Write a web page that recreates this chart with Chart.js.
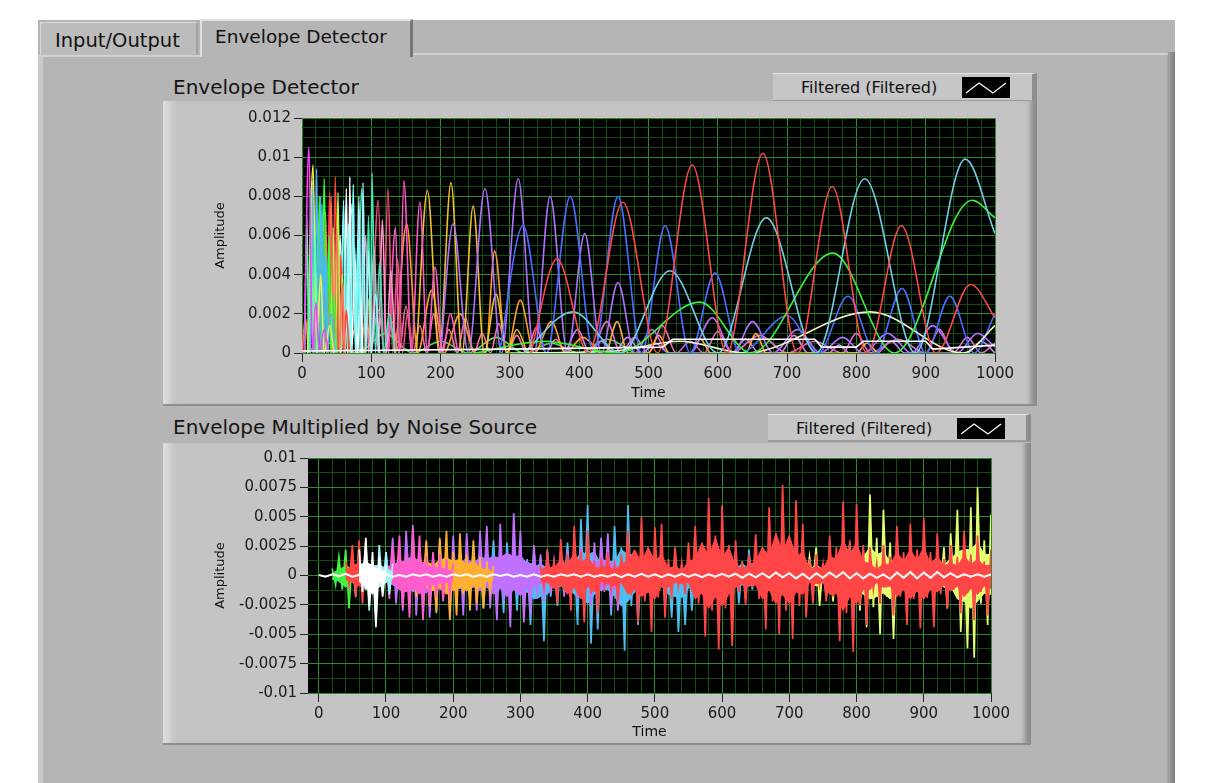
<!DOCTYPE html>
<html>
<head>
<meta charset="utf-8">
<script src="https://cdn.jsdelivr.net/npm/chart.js@4.4.0/dist/chart.umd.min.js"></script>
<style>
  body { margin:0; width:1205px; height:783px; overflow:hidden; background:#fff; position:relative; font-family:"DejaVu Sans", sans-serif; }
  .abs { position:absolute; }
  #panel { left:38px; top:20px; width:1137px; height:763px; background:#b5b5b5; }
  #panelLeft { left:38px; top:57px; width:5px; height:726px; background:#c9c9c9; }
  #panelRight { left:1167px; top:52px; width:8px; height:731px; background:linear-gradient(90deg,#a8a8a8,#7e7e7e); }
  #bodyLine { left:412px; top:53px; width:756px; height:2px; background:#d2d2d2; }
  #bodyLine2 { left:38px; top:55px; width:162px; height:2px; background:#d2d2d2; }
  .tab { color:#111; box-sizing:border-box; padding-top:6px; }
  #tab1 { left:40px; top:22px; width:158px; height:33px; background:#bcbcbc; border-top:1px solid #dcdcdc; border-left:1px solid #d6d6d6; border-right:2px solid #a0a0a0; padding-left:14px; font-size:19.5px; }
  #tab2 { left:200px; top:19px; width:213px; height:38px; background:#b5b5b5; border-top:2px solid #dedede; border-left:2px solid #dedede; border-right:3px solid #777; padding-left:13px; padding-top:5px; font-size:18.5px; }
  .gtitle { font-size:20px; color:#141414; }
  .frame { background:#c4c4c4; box-sizing:border-box; border-bottom:2px solid #8e8e8e;
           box-shadow: inset 14px 0 10px -8px #e0e0e0, inset -9px 0 5px -3px #8a8a8a; }
  .legend { background:#c6c6c6; box-sizing:border-box; border-top:1px solid #e4e4e4; border-right:5px solid #8e8e8e; border-bottom:2px solid #9c9c9c; font-size:16px; color:#111; }
  .legend span { position:absolute; left:28px; top:4px; }
  .legend svg { position:absolute; top:3px; }
  canvas { position:absolute; left:0; top:0; }
</style>
</head>
<body>
<div class="abs" id="panel"></div>
<div class="abs" id="panelLeft"></div>
<div class="abs" id="panelRight"></div>
<div class="abs" id="bodyLine"></div>
<div class="abs" id="bodyLine2"></div>
<div class="abs tab" id="tab1">Input/Output</div>
<div class="abs tab" id="tab2">Envelope Detector</div>

<div class="abs gtitle" style="left:173px;top:75px;">Envelope Detector</div>
<div class="abs legend" style="left:773px;top:73px;width:264px;height:29px;">
  <span>Filtered (Filtered)</span>
  <svg style="left:189px" width="48" height="21"><rect width="48" height="21" fill="#000"/><polyline points="4,16 17,6 31,16 44,6" fill="none" stroke="#fff" stroke-width="1.3"/></svg>
</div>
<div class="abs frame" style="left:163px;top:101px;width:874px;height:305px;">
  <canvas id="topChart" width="874" height="305"></canvas>
</div>

<div class="abs gtitle" style="left:173px;top:415px;">Envelope Multiplied by Noise Source</div>
<div class="abs legend" style="left:768px;top:414px;width:263px;height:28px;">
  <span>Filtered (Filtered)</span>
  <svg style="left:189px" width="48" height="21"><rect width="48" height="21" fill="#000"/><polyline points="4,16 17,6 31,16 44,6" fill="none" stroke="#fff" stroke-width="1.3"/></svg>
</div>
<div class="abs frame" style="left:163px;top:443px;width:868px;height:302px;">
  <canvas id="botChart" width="868" height="302"></canvas>
</div>

<script>
// ---------- top graph: envelope lobes, [time, amplitude in units of 0.001] ----------
const envMagenta   = [[3,0],[10,10.5],[15,0],[20,2.6],[25,0],[32,1.2],[38,0]];
const envMint      = [[4,0],[7,7.0],[10,0],[13,8.4],[16,0],[19,6.2],[22,0]];
const envYellow    = [[8,0],[16,9.6],[21,0],[27,4.0],[32,0],[40,1.4],[46,0]];
const envSky       = [[12,0],[15,8.8],[18,0],[21,9.4],[24,0],[27,8.0],[30,0],[33,5.0],[36,0],[42,2.0],[48,0]];
const envTeal      = [[26,0],[29,7.6],[32,0],[35,5.0],[38,0]];
const envGreen     = [[22,0],[25,8.0],[28,0],[32,8.9],[36,0],[39,6.0],[42,0],[46,3.0],[50,0]];
const envSalmon    = [[30,0],[34,7.2],[38,0],[42,8.0],[46,0],[50,6.4],[54,0],[58,3.6],[62,0]];
const envLime      = [[42,0],[45,6.4],[48,0],[52,8.2],[55,0],[58,4.0],[62,0]];
const envRedEarly  = [[36,0],[40,8.2],[44,0],[48,9.0],[52,0],[56,5.0],[60,0],[64,2.2],[68,0]];
const envAqua      = [[56,0],[60,7.8],[63,0],[67,6.6],[70,0],[74,8.6],[77,0],[81,6.2],[84,0]];
const envWhite     = [[50,0],[55,6.0],[60,0],[64,8.4],[67,0],[69,9.0],[72,0],[76,5.4],[80,0],[84,2.6],[88,0]];
const envIce       = [[66,0],[72,7.6],[78,0],[82,8.0],[86,0],[88,8.7],[92,0],[96,5.2],[100,0],[106,3.0],[112,0]];
const envOlive     = [[62,0],[66,3.8],[70,0],[90,0],[95,2.8],[100,0]];
const envSea       = [[80,0],[86,8.4],[92,0],[96,7.0],[99,0],[101,9.2],[106,0],[112,4.6],[118,0],[126,2.0],[134,0]];
const envBlush     = [[86,0],[92,6.0],[96,0],[104,5.4],[110,0],[116,6.8],[122,0],[128,4.2],[134,0]];
const envRose      = [[100,0],[110,7.8],[117,0],[124,8.4],[131,0],[138,4.8],[145,0],[152,2.0],[160,0]];
const envPink      = [[125,0],[135,6.4],[140,0],[147,8.8],[158,0],[170,7.7],[181,0],[192,4.4],[203,0],[214,2.0],[225,0]];
const envGold      = [[165,0],[181,8.3],[198,0],[215,8.7],[231,0],[247,7.5],[263,0],[280,3.0],[296,0],[310,1.2],[325,0]];
const envOrange    = [[135,0],[151,6.6],[167,0],[187,3.2],[205,0],[228,2.0],[250,0],[265,0],[278,5.2],[295,0],[315,2.7],[335,0],[360,1.6],[380,0],[405,0.8],[430,0]];
const envEmber     = [[0,0],[5,1.8],[10,0],[15,2.6],[20,0],[26,1.4],[32,0],[38,2.2],[44,0],[50,1.6],[56,0],[62,2.4],[68,0],[76,1.2],[84,0],[92,1.8],[100,0]];
const envPinkLow   = [[100,0],[110,2.2],[120,0],[130,1.6],[140,0],[150,2.4],[160,0],[170,1.4],[180,0],[190,2.0],[200,0],[212,1.2],[224,0],[236,1.8],[248,0],[260,1.0],[272,0],[284,1.5],[296,0],[310,0.9],[324,0],[338,1.3],[352,0],[366,0.7],[380,0]];
const envGreenLow  = [[0,0],[40,0.5],[80,0],[120,1.0],[160,0],[200,0.6],[240,0],[280,0.8],[320,0],[360,0.5],[400,0],[440,0.7],[480,0]];
const envViolet    = [[200,0],[218,6.6],[240,0],[264,8.4],[288,0],[312,8.9],[335,0],[358,8.0],[383,0],[408,6.1],[432,0],[456,3.6],[480,0],[505,1.2],[528,0],[560,0],[592,1.8],[622,0],[650,1.6],[680,0],[715,1.2],[748,0],[780,0.8],[810,0],[845,1.0],[880,0],[910,1.4],[945,0],[975,1.0],[1000,0.3]];
const envLilacLow  = [[380,0],[398,1.2],[415,0],[432,0.6],[450,0],[470,0.8],[490,0],[510,0.5],[530,0],[620,0],[640,0.7],[660,0],[690,0],[710,0.9],[730,0],[760,0],[775,0.4],[790,0],[830,0],[850,0.6],[870,0],[960,0],[980,0.6],[1000,0]];
const envRoseLow   = [[420,0],[440,1.6],[460,0],[480,0.8],[500,0],[520,1.4],[540,0],[560,0.6],[580,0],[600,1.1],[620,0],[660,0.9],[700,0],[740,0.6],[780,0],[800,1.0],[820,0],[860,0.7],[900,0],[920,1.2],[940,0],[960,0.8],[980,0],[1000,0.5]];
const envAmberLow  = [[440,0],[455,1.6],[470,0],[500,0],[515,0.9],[530,0],[560,0],[575,0.7],[590,0],[640,0],[655,1.0],[670,0],[800,0],[815,0.5],[830,0]];
const envBlue      = [[285,0],[319,6.5],[353,0],[387,8.0],[421,0],[456,8.0],[490,0],[524,6.5],[560,0],[596,4.1],[632,0],[700,1.9],[745,0],[788,2.9],[828,0],[866,3.3],[900,0],[935,2.9],[970,0],[1000,2.0]];
const envCream     = [[300,0],[450,0.1],[545,0.6],[640,0],[820,2.1],[954,0],[1000,1.4]];
const envGreenSlow = [[250,0],[350,0.6],[455,0],[574,2.6],[648,0],[766,5.1],[855,0],[967,7.8],[1000,6.9]];
const envCyan      = [[320,0],[391,2.1],[460,0],[531,4.2],[600,0],[670,6.9],[742,0],[812,8.9],[885,0],[957,9.9],[1000,6.1]];
const envRed       = [[330,0],[368,4.8],[413,0],[463,7.7],[513,0],[563,9.6],[613,0],[665,10.2],[715,0],[765,8.5],[815,0],[865,6.5],[915,0],[965,3.5],[1000,1.8]];
const envBase      = [[0,0.1],[300,0.2],[520,0.3],[535,0.7],[740,0.7],[750,0.3],[800,0.3],[810,0.6],[900,0.6],[910,0.2],[1000,0.4]];

// drawn bottom -> top
const topLayers = [
  [envGreenLow,'#55dd55'], [envEmber,'#ff8040'], [envPinkLow,'#ff6fb0'], [envLilacLow,'#cc88ff'], [envRoseLow,'#e070c0'], [envAmberLow,'#ffb040'],
  [envOrange,'#ff9a30'], [envGold,'#f0c030'], [envViolet,'#b070ff'], [envPink,'#ff58c8'], [envRose,'#f05080'], [envBlush,'#ff9ad0'],
  [envSea,'#40e8b0'], [envOlive,'#c8c840'], [envIce,'#a8f0ff'], [envWhite,'#ffffff'], [envAqua,'#80ffff'], [envRedEarly,'#ff4040'],
  [envLime,'#b0ff40'], [envSalmon,'#ff7060'], [envGreen,'#30ff30'], [envTeal,'#40c8c8'], [envSky,'#50b4ff'], [envYellow,'#f0f040'],
  [envMint,'#60ffa0'], [envMagenta,'#ff3cff'],
  [envBlue,'#4a6cff'], [envCream,'#f2f2c0'], [envGreenSlow,'#3cf03c'], [envCyan,'#70d0e8'], [envRed,'#ff4848'],
  [envBase,'#ffffff']
];

// ---------- bottom graph: envelope x noise (units of 0.001) ----------
// spikes: sampled every 5 time units; cores (filled body, upper / lower magnitude): every 10 time units
const noiseStep = 5, coreStep = 10;

const mulGreenStart = 20,  mulGreen  = [0.6,-0.8, 1.6,-1.2, 2.2,-2.8, 1.8,-1.4, 0.8];
const coreGreenHi = [0.2,0.5,0.8,0.6,0.3], coreGreenLo = [0.3,0.5,1.0,0.5,0.3];

const mulRedEStart  = 40,  mulRedE   = [1.2,-0.8, 2.6,-1.8, 3.0,-2.4, 1.8,-2.0, 1.4,-1.2, 0.8];
const coreRedEHi = [0.4,0.9,1.0,0.6,0.5,0.3], coreRedELo = [0.3,0.6,0.9,0.8,0.4,0.3];

const mulIceStart   = 50,  mulIce    = [1.4,-1.8, 2.4,-1.2, 2.8,-3.0, 1.2,-3.6, 2.6,-1.4, 2.0,-1.6, 1.0];
const coreIceHi = [0.5,0.9,1.0,0.8,0.9,0.6,0.3], coreIceLo = [0.6,0.8,1.2,1.3,1.0,0.6,0.3];

const mulWhiteStart = 60,  mulWhite  = [2.2,-1.4, 3.2,-2.6, 2.0,-4.4, 1.6,-1.8, 0.8];
const coreWhiteHi = [0.8,1.2,0.8,0.5,0.3], coreWhiteLo = [0.5,1.0,1.6,0.6,0.3];

const mulPinkStart  = 100, mulPink   = [1.4,-2.0, 2.6,-0.8, 3.4,-2.8, 1.8,-3.6, 4.0,-1.2, 3.4,-3.8, 1.6,-2.4, 2.0,-1.8, 1.8,-2.2, 1.4,-1.6, 1.0];
const corePinkHi = [0.5,0.8,1.3,1.0,1.6,1.2,0.9,0.7,0.7,0.5,0.3], corePinkLo = [0.6,0.6,1.2,1.4,1.0,1.6,0.8,0.8,0.7,0.6,0.3];

const mulOrangeStart= 140, mulOrange = [1.2,-1.8, 2.4,-1.0, 3.0,-2.6, 1.6,-3.2, 3.2,-1.8, 3.8,-3.8, 2.0,-3.4, 3.6,-1.6, 1.8,-3.0, 3.0,-2.4, 1.6,-2.8, 1.2,-1.4, 0.8];
const coreOrangeHi = [0.5,0.8,1.2,0.9,1.3,1.5,1.2,1.4,0.9,1.2,0.6,0.5,0.3], coreOrangeLo = [0.6,0.7,1.0,1.3,1.0,1.6,1.2,1.0,1.3,0.9,1.0,0.5,0.3];

const mulVioletStart= 100, mulViolet = [2.0,-0.8, 3.2,-2.4, 1.6,-3.0, 3.8,-1.2, 4.3,-3.4, 1.8,-2.8, 2.8,-3.6, 1.2,-3.0, 3.0,-1.6, 1.4,-3.2,
                                        3.4,-1.8, 1.8,-3.4, 3.6,-1.4, 2.2,-3.0, 3.8,-1.4, 4.2,-2.8, 1.6,-3.8, 4.4,-2.2, 2.0,-4.4, 5.3,-1.6,
                                        3.8,-4.0, 1.2,-3.4, 2.6,-1.8, 1.8,-2.2, 2.0,-1.6, 1.2,-1.4, 1.6,-1.8, 2.2,-1.4, 1.8,-2.0, 2.4,-1.6,
                                        2.0,-2.6, 2.8,-2.2, 3.2,-1.4, 3.6,-2.8, 1.4,-3.0, 1.6];
const coreVioletHi = [0.6,1.0,0.9,1.4,1.6,1.1,1.1,0.8,1.2,0.9, 1.3,1.0,1.5,1.0,1.6,1.4,1.6,1.5,1.9,1.6, 1.7,1.0,1.0,0.6,0.8,0.4,0.7,0.6,0.8,0.7, 0.9,1.0,1.4,1.2,1.0,0.5];
const coreVioletLo = [0.5,0.8,1.2,0.9,1.4,1.0,1.5,0.9,1.2,1.0, 1.3,1.1,1.2,1.0,1.3,1.0,1.6,1.1,1.8,1.2, 1.7,1.1,1.0,0.7,0.6,0.4,0.7,0.5,0.8,0.6, 1.0,0.8,1.3,0.9,1.2,0.5];

const mulCyanStart  = 200, mulCyan   = [1.0,-0.6, 1.6,-1.2, 0.8,-1.8, 2.6,-1.0, 1.2,-2.8, 2.4,-0.9, 3.0,-2.6, 1.2,-3.2, 2.8,-1.4, 1.6,-3.0,
                                        2.6,-1.6, 1.4,-4.2, 2.4,-2.0, 1.5,-5.6, 2.2,-1.8, 1.0,-2.6, 1.6,-1.2, 2.8,-1.6, 1.6,-4.2, 4.8,-2.2,
                                        6.0,-5.8, 2.2,-4.6, 3.0,-1.2, 1.4,-3.4, 4.2,-1.8, 2.4,-6.4, 6.0,-2.6, 2.0,-4.2, 1.8,-1.0, 0.8,-1.6,
                                        1.2,-0.8, 1.6,-2.6, 0.8,-3.6, 2.2,-4.8, 1.0,-4.2, 1.2,-3.0, 1.0,-1.4, 0.8,-1.0, 0.6,-0.8, 0.8,-1.0,
                                        1.0,-1.2, 1.4,-0.8, 2.0,-2.4, 1.2,-2.0, 2.2,-1.2, 1.4,-1.2, 0.6];
const coreCyanHi = [0.4,0.5,0.6,0.9,0.5,0.9,1.0,1.1,0.8,1.3, 0.9,1.2,0.7,1.0,0.6,0.7,0.4,1.0,1.0,2.0, 1.8,2.0,0.9,1.2,1.2,2.2,1.8,1.7,0.5,0.6,
                    0.3,0.7,0.4,0.8,0.4,0.6,0.3,0.4,0.2,0.4, 0.3,0.6,0.6,1.0,0.6,0.5,0.3];
const coreCyanLo = [0.4,0.5,0.6,0.8,1.0,0.7,1.1,1.0,1.2,1.0, 1.5,1.4,2.0,1.8,1.6,0.8,0.9,1.0,1.6,1.8, 2.4,1.6,1.2,1.2,1.8,2.6,2.2,1.4,0.7,0.6,
                    0.6,0.9,1.6,1.8,1.9,1.1,0.6,0.4,0.3,0.4, 0.5,0.6,0.9,0.8,0.9,0.5,0.3];

const mulRedStart   = 330, mulRed    = [0.8,-1.0, 1.9,-0.7, 1.2,-2.4, 3.1,-1.1, 1.8,-3.0, 4.2,-1.6, 2.0,-4.0, 3.8,-1.5, 1.2,-3.2, 1.5,-0.9,
                                        2.0,-1.2, 0.9,-2.2, 1.8,-1.0, 3.8,-1.7, 2.0,-4.0, 5.0,-2.2, 2.4,-4.8, 4.1,-1.9, 4.4,-3.6, 1.4,-2.0,
                                        2.4,-0.9, 1.1,-1.6, 2.8,-1.2, 4.2,-2.4, 2.6,-5.2, 6.6,-3.0, 3.4,-6.3, 6.0,-2.8, 2.6,-6.0, 3.0,-1.4,
                                        1.2,-2.5, 1.8,-1.0, 3.5,-2.0, 2.4,-4.6, 5.8,-2.2, 3.6,-5.0, 7.7,-3.0, 3.4,-5.4, 6.4,-2.6, 4.4,-3.6,
                                        1.4,-2.4, 1.8,-0.8, 1.0,-2.2, 3.4,-1.8, 2.4,-5.6, 6.3,-3.2, 3.0,-6.5, 6.1,-2.6, 2.6,-4.2, 2.4,-1.2,
                                        1.0,-2.4, 2.6,-1.0, 1.6,-3.4, 4.2,-1.8, 2.0,-4.2, 4.4,-2.0, 2.2,-4.5, 4.9,-1.9, 2.0,-4.4, 3.6,-1.6,
                                        1.4,-2.8, 2.6,-1.2, 1.6,-3.2, 3.8,-1.5, 1.8,-3.8, 3.4,-1.4, 1.2,-3.4, 2.2];
const coreRedHi = [0.4,0.8,0.6,1.4,0.9,1.9,1.0,1.6,0.7,0.6, 0.9,0.4,1.0,1.2,2.2,1.1,2.4,1.2,1.8,0.6, 0.8,0.4,1.2,1.4,2.8,1.6,3.2,1.5,2.4,0.8,
                   0.6,0.9,1.2,2.4,1.6,3.6,2.0,3.4,1.6,2.0, 0.6,0.7,0.6,1.6,1.4,3.0,1.8,2.8,1.2,1.0, 0.5,1.0,0.9,2.0,1.2,2.2,1.3,2.4,1.0,1.6,
                   0.8,1.1,0.8,1.7,0.9,1.4,0.8,0.9];
const coreRedLo = [0.5,0.6,1.1,0.8,1.6,1.0,2.0,0.9,1.4,0.5, 0.7,0.9,0.6,1.6,1.2,1.8,1.4,2.0,0.9,1.0, 0.6,0.7,0.6,2.0,1.5,2.8,1.8,2.6,1.6,1.0,
                   0.7,0.9,0.8,2.0,1.2,2.4,1.6,2.4,1.4,1.6, 0.6,0.7,0.6,1.6,1.5,3.0,1.8,2.4,1.2,1.2, 0.6,1.0,0.9,1.8,1.2,2.0,1.3,2.0,1.2,1.4,
                   0.8,1.3,0.9,1.8,1.1,1.6,0.9,1.1];

const mulLimeStart  = 720, mulLime   = [0.8,-1.2, 1.6,-0.6, 2.4,-2.6, 1.0,-1.8, 1.4,-2.2, 1.0,-1.4, 1.6,-1.2, 2.8,-1.4, 3.6,-3.0, 2.2,-4.4,
                                        6.9,-2.7, 3.2,-5.0, 5.6,-1.8, 2.8,-5.4, 3.0,-1.6, 1.2,-2.0, 2.6,-1.8, 1.0,-2.4, 1.4,-1.6, 1.2,-1.4,
                                        1.8,-1.0, 2.4,-2.8, 3.6,-1.4, 5.6,-4.8, 2.4,-6.2, 5.8,-7.0, 7.5,-2.4, 3.0,-4.2, 5.2];
const coreLimeHi = [0.3,0.5,0.9,0.5,0.7,0.4,0.5,1.0,1.4,1.6, 2.4,1.8,2.0,1.2,1.0,0.6,0.8,0.5,0.5,0.5, 0.6,0.9,1.4,2.0,2.2,2.2,2.8,1.8,1.8];
const coreLimeLo = [0.4,0.5,0.9,0.6,0.8,0.5,0.5,0.6,1.2,1.6, 2.0,1.8,1.5,2.0,1.0,0.8,0.6,0.8,0.6,0.5, 0.5,1.0,0.9,2.0,2.2,2.8,2.2,1.5,1.6];

const residualStep = 10;
const residual = [0.05,-0.1,0.1,-0.05,0.15,-0.1,0.05,-0.15,0.1,-0.05, 0.1,-0.1,0.05,-0.1,0.1,-0.05,0.1,-0.1,0.05,-0.1,
                  0.1,-0.05,0.1,-0.1,0.05,-0.1,0.1,-0.05,0.1,-0.1, 0.05,-0.1,0.1,-0.1,0.05,-0.1,0.1,-0.05,0.1,-0.1,
                  0.1,-0.1,0.05,-0.1,0.1,-0.15,0.1,-0.1,0.15,-0.1, 0.1,-0.15,0.1,-0.1,0.15,-0.1,0.1,-0.15,0.1,-0.1,
                  0.15,-0.1,0.15,-0.2,0.15,-0.15,0.2,-0.2,0.25,-0.15, 0.2,-0.25,0.15,-0.3,0.2,-0.2,0.25,-0.15,0.3,-0.25,
                  0.2,-0.25,0.15,-0.2,0.1,-0.3,0.25,-0.2,0.3,-0.25, 0.25,-0.2,0.3,-0.15,0.2,-0.15,0.1,-0.1,0.1,-0.1, 0.1];

// drawn bottom -> top: [start, spikes, colour, core upper, core lower]
const botLayers = [
  [mulCyanStart, mulCyan, '#4cbef2', coreCyanHi, coreCyanLo],
  [mulVioletStart, mulViolet, '#c070ff', coreVioletHi, coreVioletLo],
  [mulOrangeStart, mulOrange, '#ffb030', coreOrangeHi, coreOrangeLo],
  [mulPinkStart, mulPink, '#ff5ccc', corePinkHi, corePinkLo],
  [mulGreenStart, mulGreen, '#40f040', coreGreenHi, coreGreenLo],
  [mulIceStart, mulIce, '#9ff4f4', coreIceHi, coreIceLo],
  [mulRedEStart, mulRedE, '#ff4444', coreRedEHi, coreRedELo],
  [mulWhiteStart, mulWhite, '#ffffff', coreWhiteHi, coreWhiteLo],
  [mulLimeStart, mulLime, '#e2ff70', coreLimeHi, coreLimeLo],
  [mulRedStart, mulRed, '#ff4646', coreRedHi, coreRedLo]
];

const topYLabels = [0, 0.002, 0.004, 0.006, 0.008, 0.01, 0.012];
const botYLabels = [-0.01, -0.0075, -0.005, -0.0025, 0, 0.0025, 0.005, 0.0075, 0.01];
const timeLabels = [0, 100, 200, 300, 400, 500, 600, 700, 800, 900, 1000];

// ---------- helpers ----------
const MAJOR = '#2e8a2e', MINOR = '#134d13';
const near = (v, list) => list.some(l => Math.abs(l - v) < 1e-9);
const fmt = v => String(Number(v.toFixed(5)));

const plotBg = {
  id: 'plotBg',
  beforeDraw(chart) {
    const {ctx, chartArea: a} = chart;
    ctx.save(); ctx.fillStyle = '#000';
    ctx.fillRect(a.left, a.top, a.right - a.left, a.bottom - a.top);
    ctx.restore();
  }
};

function axes(cfg) {
  return {
    x: {
      type: 'linear', min: cfg.xMin, max: 1000,
      afterFit: s => { s.height = cfg.xH; },
      ticks: { stepSize: 20, autoSkip: false, maxRotation: 0, includeBounds: false, padding: 3,
               color: '#1a1a1a', font: {family: 'DejaVu Sans', size: 15},
               callback: v => near(v, timeLabels) ? String(v) : '' },
      grid: { color: c => near(c.tick.value, timeLabels) ? MAJOR : MINOR, lineWidth: 1, tickLength: 9,
              tickColor: c => near(c.tick.value, timeLabels) ? '#222' : 'rgba(0,0,0,0)' },
      border: { display: false },
      title: { display: true, text: 'Time', color: '#111', font: {family: 'DejaVu Sans', size: 14}, padding: {top: 0, bottom: 4} }
    },
    y: {
      type: 'linear', min: cfg.yMin, max: cfg.yMax,
      afterFit: s => { s.width = cfg.yW; },
      ticks: { stepSize: cfg.yStep, autoSkip: false, padding: 3,
               color: '#1a1a1a', font: {family: 'DejaVu Sans', size: 15},
               callback: v => near(v, cfg.yLabels) ? fmt(v) : '' },
      grid: { color: c => near(c.tick.value, cfg.yLabels) ? MAJOR : MINOR, lineWidth: 1, tickLength: 8,
              tickColor: c => near(c.tick.value, cfg.yLabels) ? '#222' : 'rgba(0,0,0,0)' },
      border: { display: false },
      title: { display: true, text: 'Amplitude', color: '#111', font: {family: 'DejaVu Sans', size: 13}, padding: {top: 50, bottom: 0} }
    }
  };
}

const baseOpts = {
  responsive: false, animation: false, devicePixelRatio: 1,
  plugins: { legend: {display: false}, tooltip: {enabled: false} },
  elements: { point: {radius: 0} }
};

// ---------- top chart ----------
new Chart(document.getElementById('topChart'), {
  type: 'line',
  data: {
    datasets: topLayers.map(([pts, col], i) => ({
      data: pts.map(p => ({x: p[0], y: p[1] * 1e-3})),
      borderColor: col, borderWidth: 1.6, fill: false,
      cubicInterpolationMode: pts === envBase ? 'default' : 'monotone',
      tension: pts === envBase ? 0 : 0.4,
      order: topLayers.length - i
    }))
  },
  options: Object.assign({}, baseOpts, {
    layout: { padding: {left: 0, top: 17, right: 42, bottom: 0} },
    scales: axes({xMin: 0, xH: 53, yMin: 0, yMax: 0.012, yStep: 0.0005, yW: 139, yLabels: topYLabels})
  }),
  plugins: [plotBg]
});

// ---------- bottom chart ----------
const botSets = [];
botLayers.forEach(([start, vals, col, hi, lo], i) => {
  const base = 1000 - 10 * i;
  [[hi, 1], [lo, -1]].forEach(([core, sign]) => botSets.push({
    data: core.map((v, k) => ({x: start + k * coreStep, y: sign * v * 1e-3})),
    borderColor: col, backgroundColor: col, borderWidth: 1, fill: 'origin', tension: 0, order: base + 1
  }));
  botSets.push({
    data: vals.map((v, k) => ({x: start + k * noiseStep, y: v * 1e-3})),
    borderColor: col, backgroundColor: col, borderWidth: 1.7, fill: 'origin', tension: 0, order: base
  });
});
botSets.push({
  data: residual.map((v, k) => ({x: k * residualStep, y: v * 1e-3})),
  borderColor: '#ffffff', borderWidth: 2, fill: false, tension: 0, order: 0
});

new Chart(document.getElementById('botChart'), {
  type: 'line',
  data: { datasets: botSets },
  options: Object.assign({}, baseOpts, {
    layout: { padding: {left: 0, top: 15, right: 40, bottom: 0} },
    scales: axes({xMin: -16, xH: 52, yMin: -0.01, yMax: 0.01, yStep: 0.00125, yW: 145, yLabels: botYLabels})
  }),
  plugins: [plotBg]
});
</script>
</body>
</html>
